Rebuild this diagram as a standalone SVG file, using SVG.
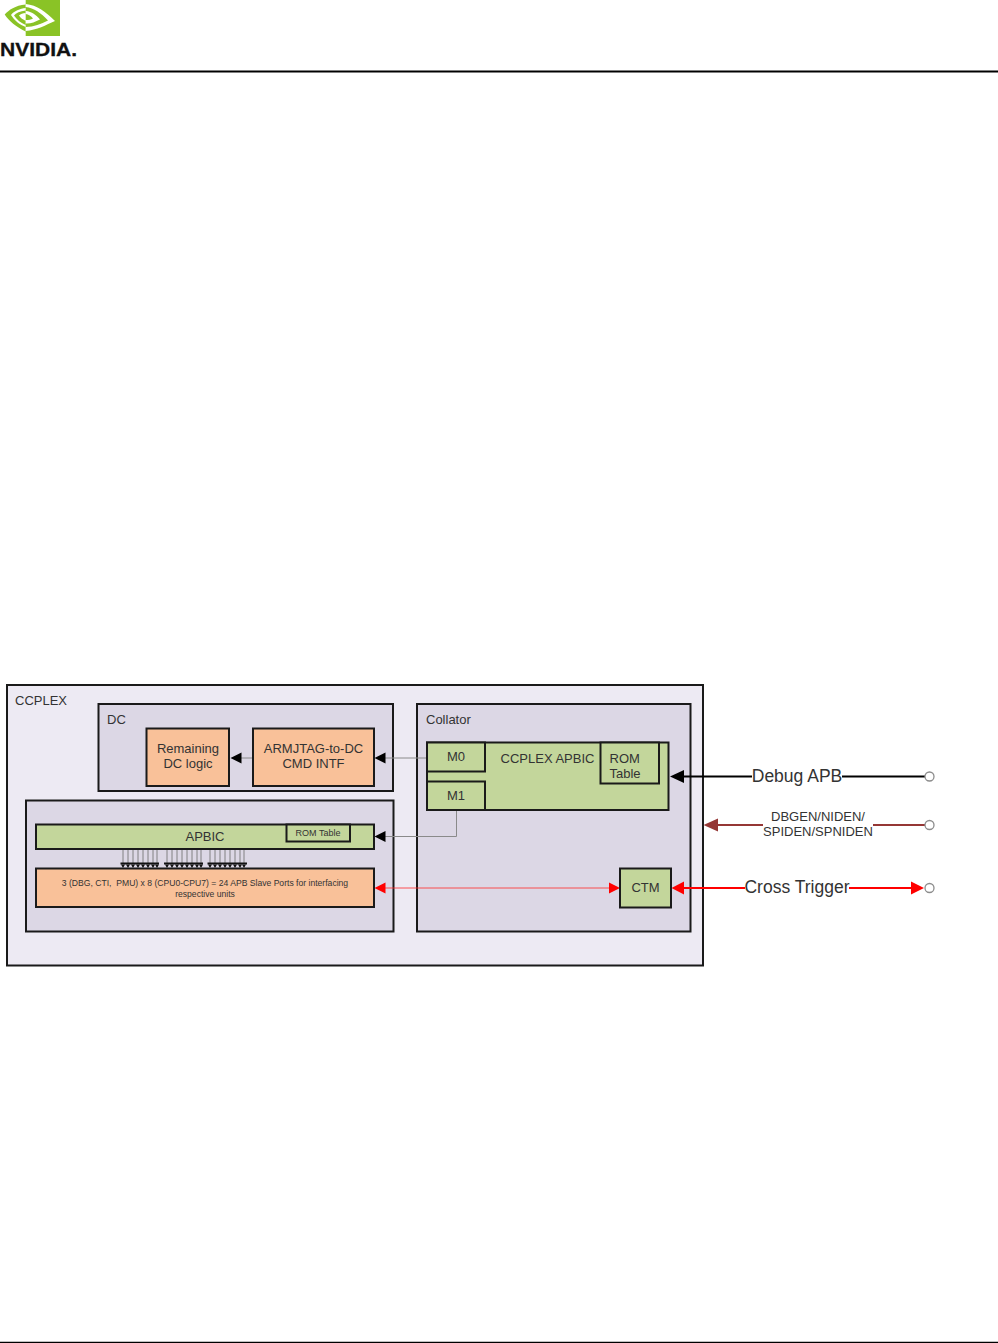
<svg xmlns="http://www.w3.org/2000/svg" width="998" height="1343" viewBox="0 0 998 1343">
<style>
text{font-family:"Liberation Sans",Arial,sans-serif;fill:#333;text-anchor:middle}
.l{text-anchor:start}
.box{stroke:#1a1a1a;stroke-width:2}
.outer{fill:#edeaf3}
.inner{fill:#dcd7e5}
.green{fill:#c3d69b}
.orange{fill:#f9c199}
.g{fill:none;stroke:#8a8a8a;stroke-width:1}
.fan{fill:none;stroke:#777;stroke-width:.9}
.port{fill:#fff;stroke:#8c8c8c;stroke-width:1.3}
.logo-green{fill:#76b900;fill-opacity:.85}
</style>
<rect width="998" height="1343" fill="#fff"/>
<g id="logo">
<rect class="logo-green" x="25.700" y="0" width="34.300" height="36"/>
<path class="logo-green" d="M25.700 4.500C15 5.500 9 10 4.700 14.500C9 21 16 27 25.700 31.500V27C20 25 14 20 11 15C14 11 20 8.500 25.700 8Z"/>
<path class="logo-green" d="M25.700 10.500C20 11 16 13 14 15.500C17 20 21 23 25.700 25V21C23 19.500 20.500 18 19 15.500C20.500 14 23 13 25.700 13Z"/>
<path d="M25.700 4C37 5 46 12 55 21C46 25 37 30 25.700 31V27C34 27 41 24 48 20.500C41 13 34 8 25.700 7ZM25.700 11C32 11.500 36 15 40 19.500C35 22 30 24 25.700 23.500V20C28.500 20 31 19.500 33 18.500C31 16 28.500 14.500 25.700 14Z" fill="#fff"/>
<text x="38.500" y="56" font-size="18" font-weight="700" textLength="77" lengthAdjust="spacingAndGlyphs" style="fill:#111;stroke:#111;stroke-width:.3">NVIDIA.</text>
</g>
<path id="header-rule" d="M0 71.500H998" stroke="#000" stroke-width="2"/>
<path id="footer-rule" d="M0 1342.500H998" stroke="#000" stroke-width="1.500"/>
<g id="ccplex"><rect class="box outer" x="7" y="685" width="696" height="280.500"/><text class="l" x="15" y="705" font-size="13">CCPLEX</text></g>
<g id="dc"><rect class="box inner" x="98.500" y="704" width="294.500" height="87"/><text class="l" x="107" y="724" font-size="13">DC</text></g>
<g id="apb-block"><rect class="box inner" x="26" y="800.500" width="367.500" height="131"/></g>
<g id="collator"><rect class="box inner" x="417" y="704" width="273.500" height="227.500"/><text class="l" x="426" y="724" font-size="13">Collator</text></g>
<g id="connectors">
<path class="g" d="M427 758H385"/>
<path class="g" d="M253 758H241"/>
<path class="g" d="M456.500 810V836.500H385"/>
<path d="M385 888H610" fill="none" stroke="#ff2a2a" stroke-width=".8"/>
<path d="M374.500 758L385.500 752.500V763.500Z" fill="#000"/>
<path d="M230.500 758L241.500 752.500V763.500Z" fill="#000"/>
<path d="M374.500 836.500L385.500 831V842Z" fill="#000"/>
<path d="M374.500 888L385.500 882.500V893.500Z" fill="#ff0000"/>
<path d="M620 888L609 882.500V893.500Z" fill="#ff0000"/>
<path d="M681 776.500H752M842 776.500H925" stroke="#000" stroke-width="2" fill="none"/>
<path d="M670 776.500L684 770V783Z" fill="#000"/>
<path d="M717 825H763M873 825H925" stroke="#953735" stroke-width="2" fill="none"/>
<path d="M703.500 825L718 818.500V831.500Z" fill="#953735"/>
<path d="M684 888H745M849 888H912" stroke="#ff0000" stroke-width="2" fill="none"/>
<path d="M671.500 888L684 881.500V894.500Z" fill="#ff0000"/>
<path d="M924 888L911 881.500V894.500Z" fill="#ff0000"/>
<path class="fan" d="M123 850V863M128 850V863M133 850V863M138 850V863M143 850V863M148 850V863M153 850V863M157 850V863M167 850V863M172 850V863M177 850V863M182 850V863M187 850V863M192 850V863M197 850V863M201 850V863M210 850V863M215 850V863M220 850V863M225 850V863M230 850V863M235 850V863M240 850V863M244 850V863"/>
<path d="M120.500 862.500H159V864.500H120.500ZM164 862.500H203V864.500H164ZM207.500 862.500H247V864.500H207.500Z" fill="#111"/>
<path fill="#111" d="M121 864.500h4l-2 3.500zM126 864.500h4l-2 3.500zM131 864.500h4l-2 3.500zM136 864.500h4l-2 3.500zM141 864.500h4l-2 3.500zM146 864.500h4l-2 3.500zM151 864.500h4l-2 3.500zM155 864.500h4l-2 3.500zM165 864.500h4l-2 3.500zM170 864.500h4l-2 3.500zM175 864.500h4l-2 3.500zM180 864.500h4l-2 3.500zM185 864.500h4l-2 3.500zM190 864.500h4l-2 3.500zM195 864.500h4l-2 3.500zM199 864.500h4l-2 3.500zM208 864.500h4l-2 3.500zM213 864.500h4l-2 3.500zM218 864.500h4l-2 3.500zM223 864.500h4l-2 3.500zM228 864.500h4l-2 3.500zM233 864.500h4l-2 3.500zM238 864.500h4l-2 3.500zM242 864.500h4l-2 3.500z"/>
</g>
<g id="ports">
<circle class="port" cx="929.500" cy="776.500" r="4.500"/>
<circle class="port" cx="929.500" cy="825" r="4.500"/>
<circle class="port" cx="929.500" cy="888" r="4.500"/>
</g>
<g id="remaining"><rect class="box orange" x="146.500" y="728.500" width="82.500" height="57.500"/><text x="188" y="753" font-size="13">Remaining</text><text x="188" y="768" font-size="13">DC logic</text></g>
<g id="armjtag"><rect class="box orange" x="253" y="728.500" width="121" height="57.500"/><text x="313.500" y="753" font-size="13">ARMJTAG-to-DC</text><text x="313.500" y="768" font-size="13">CMD INTF</text></g>
<g id="apbic"><rect class="box green" x="36" y="824.500" width="338" height="24.500"/><text x="205" y="841" font-size="13">APBIC</text></g>
<g id="apbic-rom"><rect class="box green" x="286.500" y="824.500" width="63.500" height="17"/><text x="318" y="835.500" font-size="9">ROM Table</text></g>
<g id="slave-ports"><rect class="box orange" x="36" y="868.500" width="338" height="38.500"/><text x="205" y="885.500" font-size="8.600" xml:space="preserve">3 (DBG, CTI,  PMU) x 8 (CPU0-CPU7) = 24 APB Slave Ports for interfacing</text><text x="205" y="896.500" font-size="8.600">respective units</text></g>
<g id="ccplex-apbic"><rect class="box green" x="427" y="742.500" width="241.500" height="67.500"/><text x="547.500" y="763" font-size="13">CCPLEX APBIC</text></g>
<g id="m0"><rect class="box green" x="427" y="742.500" width="58" height="29"/><text x="456" y="761" font-size="13">M0</text></g>
<g id="m1"><rect class="box green" x="427" y="781.500" width="58" height="28.500"/><text x="456" y="800" font-size="13">M1</text></g>
<g id="ccplex-rom"><rect class="box green" x="600.500" y="742.500" width="58.500" height="41"/><text class="l" x="609.500" y="763" font-size="13">ROM</text><text class="l" x="609.500" y="778" font-size="13">Table</text></g>
<g id="ctm"><rect class="box green" x="620" y="868.500" width="51" height="39"/><text x="645.500" y="892" font-size="13">CTM</text></g>
<g id="labels">
<text x="797" y="782" font-size="17.500">Debug APB</text>
<text x="818" y="821" font-size="13">DBGEN/NIDEN/</text>
<text x="818" y="836" font-size="13">SPIDEN/SPNIDEN</text>
<text x="797" y="893" font-size="17.500">Cross Trigger</text>
</g>
</svg>
